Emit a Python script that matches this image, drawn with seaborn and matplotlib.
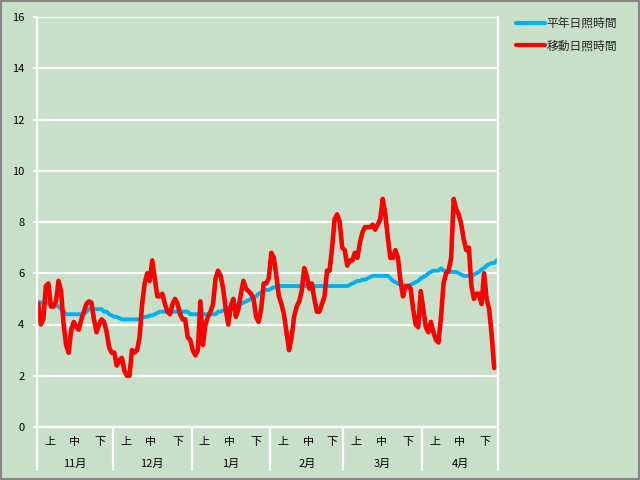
import numpy as np
import pandas as pd
import matplotlib
matplotlib.use("Agg")
import matplotlib.pyplot as plt
import matplotlib.transforms as mtransforms
from matplotlib.patches import Rectangle
import seaborn as sns

# ---------------------------------------------------------
# data (one value per day, Nov 1 -> Apr 30)
# ---------------------------------------------------------
months = ["11月", "12月", "1月", "2月", "3月", "4月"]
month_days = [30, 31, 31, 29, 31, 30]
dekads = ["上", "中", "下"]

# 平年日照時間
normal_hours = [
    4.9, 4.85, 4.85, 4.85, 4.8, 4.8, 4.8, 4.75, 4.7, 4.6,
    4.5, 4.4, 4.4, 4.4, 4.4, 4.4, 4.4, 4.4, 4.4, 4.5,
    4.6, 4.6, 4.6, 4.6, 4.6, 4.6, 4.5, 4.5, 4.4, 4.35,
    4.3, 4.3, 4.25, 4.2, 4.2, 4.2, 4.2, 4.2, 4.2, 4.2,
    4.2, 4.25, 4.3, 4.3, 4.35, 4.35, 4.4, 4.45, 4.5, 4.5,
    4.5, 4.5, 4.5, 4.5, 4.5, 4.5, 4.5, 4.5, 4.5, 4.5,
    4.4, 4.4, 4.4, 4.4, 4.4, 4.4, 4.4, 4.4, 4.4, 4.4,
    4.4, 4.5, 4.5, 4.55, 4.6, 4.65, 4.7, 4.7, 4.75, 4.8,
    4.8, 4.85, 4.9, 4.95, 5.0, 5.05, 5.1, 5.2, 5.25, 5.3,
    5.35, 5.35, 5.4, 5.45, 5.45, 5.5, 5.5, 5.5, 5.5, 5.5,
    5.5, 5.5, 5.5, 5.5, 5.5, 5.5, 5.5, 5.5, 5.5, 5.5,
    5.5, 5.5, 5.5, 5.5, 5.5, 5.5, 5.5, 5.5, 5.5, 5.5,
    5.5, 5.5, 5.5, 5.55, 5.6, 5.65, 5.7, 5.7, 5.75, 5.75,
    5.8, 5.85, 5.9, 5.9, 5.9, 5.9, 5.9, 5.9, 5.9, 5.8,
    5.7, 5.65, 5.6, 5.55, 5.5, 5.5, 5.5, 5.55, 5.6, 5.65,
    5.7, 5.8, 5.85, 5.9, 6.0, 6.05, 6.1, 6.1, 6.1, 6.2,
    6.1, 6.1, 6.05, 6.05, 6.05, 6.05, 6.0, 5.95, 5.9, 5.9,
    5.9, 5.9, 5.95, 6.0, 6.05, 6.15, 6.2, 6.3, 6.35, 6.4,
    6.4, 6.5,
]

# 移動日照時間
moving_hours = [
    4.8, 4.0, 4.2, 5.5, 5.6, 4.7, 4.7, 4.9, 5.7, 5.3,
    4.0, 3.2, 2.9, 3.8, 4.1, 3.9, 3.8, 4.2, 4.5, 4.8,
    4.9, 4.85, 4.2, 3.7, 4.0, 4.2, 4.1, 3.7, 3.1, 2.9,
    2.9, 2.4, 2.6, 2.7, 2.2, 2.0, 2.0, 3.0, 2.9, 3.0,
    3.5, 4.8, 5.6, 6.0, 5.7, 6.5, 5.8, 5.1, 5.1, 5.2,
    4.8, 4.5, 4.4, 4.8, 5.0, 4.8, 4.4, 4.2, 4.2, 3.5,
    3.4, 3.0, 2.8, 3.0, 4.9, 3.2, 4.0, 4.3, 4.5, 4.8,
    5.8, 6.1, 5.9, 5.4, 4.6, 4.0, 4.7, 5.0, 4.3, 4.6,
    5.2, 5.7, 5.4, 5.3, 5.2, 5.0, 4.3, 4.1, 4.6, 5.6,
    5.6, 5.8, 6.8, 6.6, 5.9, 5.1, 4.8, 4.4, 3.7, 3.0,
    3.5, 4.3, 4.7, 4.9, 5.3, 6.2, 5.9, 5.4, 5.6, 5.0,
    4.5, 4.5, 4.8, 5.1, 6.1, 6.1, 7.0, 8.1, 8.3, 8.0,
    7.0, 6.9, 6.3, 6.5, 6.5, 6.8, 6.6, 7.2, 7.6, 7.8,
    7.8, 7.8, 7.9, 7.7, 7.9, 8.1, 8.9, 8.3, 7.4, 6.6,
    6.6, 6.9, 6.6, 5.7, 5.1, 5.5, 5.5, 5.4, 4.6, 4.0,
    3.9, 5.3, 4.6, 3.9, 3.7, 4.1, 3.7, 3.4, 3.3, 4.3,
    5.6, 6.0, 6.1, 6.6, 8.9, 8.5, 8.3, 7.9, 7.3, 6.9,
    7.0, 5.5, 5.0, 5.2, 5.2, 4.8, 6.0, 5.0, 4.6, 3.6,
    2.3,
]

n_days = sum(month_days)

normal_df = pd.DataFrame({"day": np.arange(len(normal_hours)) + 0.5, "hours": normal_hours})
moving_df = pd.DataFrame({"day": np.arange(len(moving_hours)) + 0.5, "hours": moving_hours})

# ---------------------------------------------------------
# figure
# ---------------------------------------------------------
bg = "#c8dfc8"
sns.set_style("white")
plt.rcParams["font.family"] = ["Noto Sans CJK JP", "DejaVu Sans"]

fig = plt.figure(figsize=(6.4, 4.8), dpi=100, facecolor=bg)
ax = fig.add_axes([37 / 640, 53 / 480, 461 / 640, 410 / 480])
ax.set_facecolor(bg)

sns.lineplot(data=normal_df, x="day", y="hours", ax=ax, color="#00b0f0",
             linewidth=2.8, label="平年日照時間")
sns.lineplot(data=moving_df, x="day", y="hours", ax=ax, color="#ff0000",
             linewidth=3.3, label="移動日照時間")

ax.set_xlim(0, n_days)
ax.set_ylim(0, 16)
ax.set_yticks(range(0, 17, 2))
ax.grid(axis="y", color="white", linewidth=1.6)
ax.set_axisbelow(True)
ax.set_xlabel("")
ax.set_ylabel("")
ax.set_xticks([])
ax.tick_params(axis="y", length=3, width=1.5, color="white", pad=6,
               labelsize=8, labelcolor="black", left=True)

for side in ["left", "right", "bottom"]:
    ax.spines[side].set_color("white")
    ax.spines[side].set_linewidth(1.6)
ax.spines["top"].set_visible(False)

# category axis: 上/中/下 and months
trans = mtransforms.blended_transform_factory(ax.transData, ax.transAxes)
start = 0
bounds = [0]
for m, nd in zip(months, month_days):
    centers = [start + 5, start + 15, start + (20 + nd) / 2]
    for c, lab in zip(centers, dekads):
        ax.text(c, -0.036, lab, transform=trans, ha="center", va="center",
                fontsize=8, color="black")
    ax.text(start + nd / 2, -0.09, m, transform=trans, ha="center", va="center",
            fontsize=8, color="black")
    start += nd
    bounds.append(start)

for b in bounds:
    ax.plot([b, b], [0, -0.105], transform=trans, color="white",
            linewidth=1.6, clip_on=False)

leg = ax.legend(loc="upper left", bbox_to_anchor=(510 / 640, 1 - 11 / 480),
                bbox_transform=fig.transFigure, frameon=False, fontsize=8.5,
                handlelength=2.5, handletextpad=0.1, labelspacing=0.8,
                borderpad=0)
for line in leg.get_lines():
    line.set_linewidth(3.0)

fig.patches.append(Rectangle((0, 0), 1, 1, transform=fig.transFigure,
                             fill=False, edgecolor="#858585", linewidth=3))

fig.savefig("out.png", dpi=100, facecolor=bg)
